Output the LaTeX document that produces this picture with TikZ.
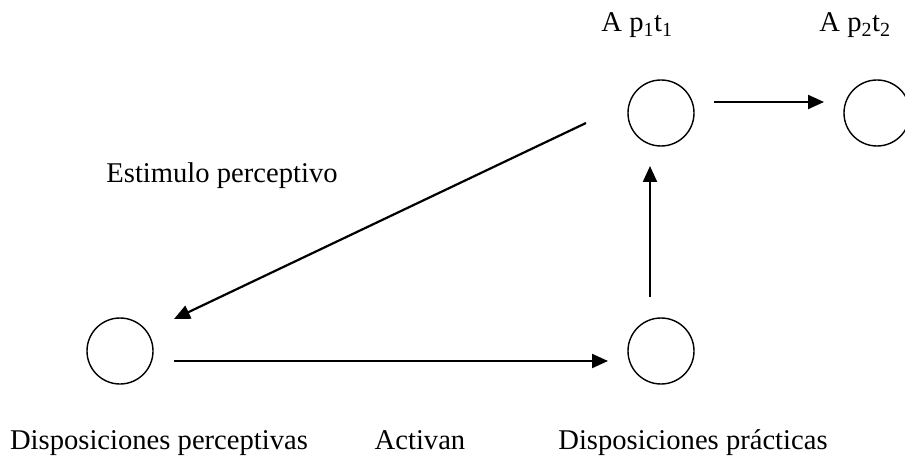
\documentclass[tikz,border=0pt]{standalone}
\usepackage{fontspec}
\setmainfont{Liberation Serif}
\usetikzlibrary{arrows.meta}
\begin{document}
\begin{tikzpicture}[x=1pt,y=-1pt,
  circ/.style={circle,draw,line width=1.4pt,minimum size=66pt,inner sep=0pt},
  arr/.style={line width=2.2pt,-{Triangle[length=16pt,width=14pt]}},
  lbl/.style={anchor=base,inner sep=0pt,font=\fontsize{28.6}{34}\selectfont}]
\useasboundingbox (0,0) rectangle (905,457);
\node[circ] (c1) at (661,113) {};
\node[circ] (c2) at (877,113) {};
\node[circ] (dp) at (120,351) {};
\node[circ] (dr) at (661,351) {};
\coordinate (a1s) at (714,102);
\coordinate (a1e) at (824,102);
\coordinate (a2s) at (650,297);
\coordinate (a2e) at (650,166);
\coordinate (a3s) at (586,123);
\coordinate (a3e) at (174,319);
\coordinate (a4s) at (174,361);
\coordinate (a4e) at (608,361);
\draw[arr] (a1s) -- (a1e);
\draw[arr] (a2s) -- (a2e);
\draw[arr] (a3s) -- (a3e);
\draw[arr] (a4s) -- (a4e);
\node[lbl] (l1) at (637,32) {A p\textsubscript{1}t\textsubscript{1}};
\node[lbl] (l2) at (855,32) {A p\textsubscript{2}t\textsubscript{2}};
\node[lbl] (l3) at (222,183) {Estimulo perceptivo};
\node[lbl] (l4) at (159,449) {Disposiciones perceptivas};
\node[lbl] (l5) at (420,449) {Activan};
\node[lbl] (l6) at (693,449) {Disposiciones prácticas};
\end{tikzpicture}
\end{document}
